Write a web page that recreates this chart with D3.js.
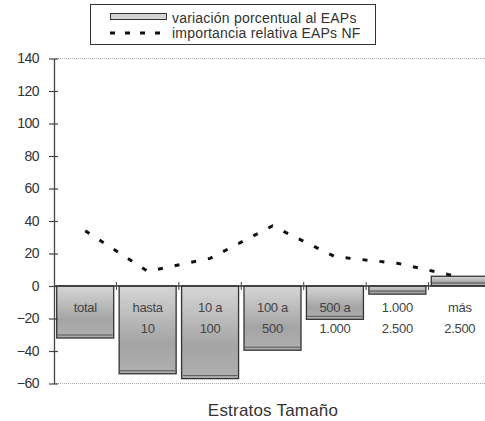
<!DOCTYPE html>
<html><head><meta charset="utf-8">
<script src="https://cdn.jsdelivr.net/npm/d3@7"></script>
<style>
body{margin:0;background:#fff;}
svg{display:block;font-family:"Liberation Sans",Arial,sans-serif;}
</style></head>
<body>
<svg id="chart" width="485" height="421"></svg>
<script>
const categories = ["total","hasta 10","10 a 100","100 a 500","500 a 1.000","1.000 2.500","más 2.500"];
const labelLine1 = ["total","hasta","10 a","100 a","500 a","1.000","más"];
const labelLine2 = ["","10","100","500","1.000","2.500","2.500"];
const variacion = [-32, -54, -57, -39.5, -20.5, -5, 6];
const importancia = [34, 9, 17, 37, 18, 14, 5.5];
const yTicks = [140,120,100,80,60,40,20,0,-20,-40,-60];
const legendLabels = ["variación porcentual al EAPs","importancia relativa EAPs NF"];
const xTitle = "Estratos Tamaño";

const svg = d3.select("#chart");
const pLeft = 54, pRight = 491, pTop = 58.5, pBottom = 383.5;
const x = d3.scaleBand().domain(categories).range([pLeft, pRight]).paddingInner(0.087).paddingOuter(0.0435);
const y = d3.scaleLinear().domain([-60, 140]).range([pBottom, pTop]);

const defs = svg.append("defs");
const grad = defs.append("linearGradient").attr("id","barGrad").attr("x1",0).attr("y1",0).attr("x2",0).attr("y2",1);
grad.append("stop").attr("offset","0%").attr("stop-color","#d6d6d6");
grad.append("stop").attr("offset","65%").attr("stop-color","#a4a4a4");
grad.append("stop").attr("offset","100%").attr("stop-color","#b0b0b0");

// grid lines top and bottom (dotted)
svg.append("g").selectAll("line").data([140,-60]).join("line")
  .attr("x1", pLeft).attr("x2", 485).attr("y1", d=>y(d)).attr("y2", d=>y(d))
  .attr("stroke","#aaa").attr("stroke-width",1).attr("stroke-dasharray","1,1");

// bars
const bars = svg.append("g");
bars.selectAll("rect").data(variacion).join("rect")
  .attr("x",(d,i)=>x(categories[i]))
  .attr("width", x.bandwidth())
  .attr("y", d=>Math.min(y(d), y(0)))
  .attr("height", d=>Math.abs(y(d)-y(0)))
  .attr("fill","url(#barGrad)")
  .attr("stroke","#333").attr("stroke-width",1.3);
bars.selectAll("line.inner").data(variacion).join("line").attr("class","inner")
  .attr("x1",(d,i)=>x(categories[i])+1).attr("x2",(d,i)=>x(categories[i])+x.bandwidth()-1)
  .attr("y1", d=>Math.max(y(d), y(0))-3).attr("y2", d=>Math.max(y(d), y(0))-3)
  .attr("stroke","#555").attr("stroke-width",1);

// zero line
svg.append("line").attr("x1",pLeft).attr("x2",485).attr("y1",y(0)).attr("y2",y(0))
  .attr("stroke","#333").attr("stroke-width",1.3);
// category ticks
svg.append("g").selectAll("line").data(categories.slice(1)).join("line")
  .attr("x1",d=>x(d)-x.step()*0.0435).attr("x2",d=>x(d)-x.step()*0.0435)
  .attr("y1",y(0)-4).attr("y2",y(0)+4).attr("stroke","#444").attr("stroke-width",1);

// y axis
const yAxis = d3.axisLeft(y).tickValues(yTicks).tickSize(0).tickPadding(15);
const ya = svg.append("g").attr("transform",`translate(${pLeft},0)`).call(yAxis);
ya.select(".domain").attr("stroke","#444").attr("stroke-width",1.3);
ya.selectAll(".tick text").attr("font-size",14).attr("fill","#333").attr("letter-spacing","-0.5")
  .attr("font-family","'Liberation Sans',Arial,sans-serif");
ya.selectAll(".tick").append("line").attr("x1",-5).attr("x2",4).attr("stroke","#444").attr("stroke-width",1.2);

// bar labels
const lbl = svg.append("g").attr("font-size",13).attr("fill","#444").attr("text-anchor","middle").attr("letter-spacing","-0.3");
lbl.selectAll("text.l1").data(labelLine1).join("text").attr("class","l1")
  .attr("x",(d,i)=>x(categories[i])+x.bandwidth()/2).attr("y",y(0)+26).text(d=>d);
lbl.selectAll("text.l2").data(labelLine2).join("text").attr("class","l2")
  .attr("x",(d,i)=>x(categories[i])+x.bandwidth()/2).attr("y",y(0)+47).text(d=>d);

// line series
const line = d3.line().x((d,i)=>x(categories[i])+x.bandwidth()/2).y(d=>y(d));
svg.append("path").datum(importancia).attr("d",line)
  .attr("fill","none").attr("stroke","#111").attr("stroke-width",3)
  .attr("stroke-dasharray","5,12");

// x title
svg.append("text").attr("x",273).attr("y",416).attr("text-anchor","middle")
  .attr("font-size",17).attr("fill","#333").attr("letter-spacing","0.2").text(xTitle);

// legend
const lg = svg.append("g");
lg.append("rect").attr("x",90.5).attr("y",4.5).attr("width",285).attr("height",40)
  .attr("fill","#fff").attr("stroke","#333").attr("stroke-width",1);
lg.append("rect").attr("x",110.5).attr("y",13.5).attr("width",56).attr("height",6)
  .attr("fill","#d4d4d4").attr("stroke","#333").attr("stroke-width",1);
lg.append("line").attr("x1",110).attr("x2",168).attr("y1",33).attr("y2",33)
  .attr("stroke","#111").attr("stroke-width",3).attr("stroke-dasharray","5,10");
lg.selectAll("text").data(legendLabels).join("text")
  .attr("x",172).attr("y",(d,i)=>23+i*15).attr("font-size",14).attr("fill","#333")
  .attr("letter-spacing","0.2").text(d=>d);
</script>
</body></html>
